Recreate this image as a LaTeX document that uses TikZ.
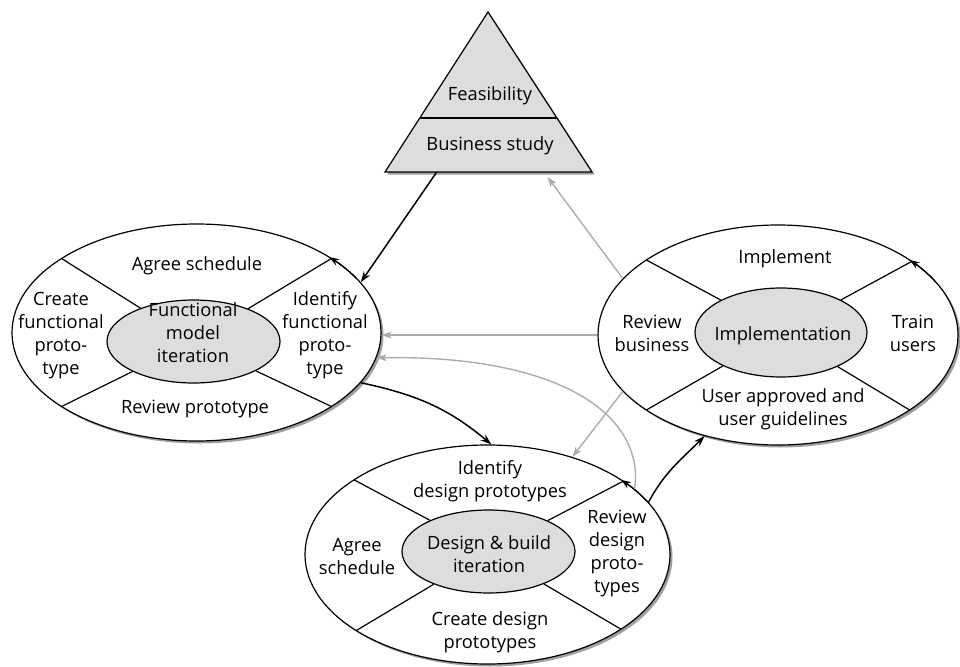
\documentclass[tikz,border=0pt]{standalone}
\usepackage{fontspec}
\setmainfont{Open Sans}
\usetikzlibrary{shapes.geometric,shadows,arrows.meta,calc}

\begin{document}
\begin{tikzpicture}[x=1pt,y=-1pt,
  txt/.style={font=\fontsize{18.3}{23}\selectfont, align=center, inner sep=0pt, text=black},
  shade/.style={drop shadow={shadow xshift=2.5pt, shadow yshift=-2.5pt, fill=gray!75, opacity=1}},
  outer/.style={ellipse, draw, line width=1.2pt, fill=white, inner sep=0pt, shade},
  core/.style={ellipse, draw, line width=1.2pt, fill=gray!27, inner sep=0pt},
  divider/.style={line width=1.2pt},
  turn/.style={line width=1.2pt, -{Stealth[length=10pt,width=7pt]}},
  flow/.style={line width=1.5pt, -{Stealth[length=11pt,width=7.5pt]}},
  back/.style={line width=1.4pt, draw=gray!65, -{Stealth[length=10pt,width=7pt,inset=2.5pt]}},
]
\useasboundingbox (0,0) rectangle (960,666);

% ---------- Feasibility / business study pyramid ----------
\coordinate (apex) at (488,12);
\coordinate (bl) at (385,172);
\coordinate (br) at (592,172);
\filldraw[fill=gray!27, line width=1.2pt, shade] (apex) -- (br) -- (bl) -- cycle;
\draw[line width=1.2pt] ($(apex)!0.6625!(bl)$) -- ($(apex)!0.6625!(br)$);
\node[txt] (feas) at (490,95.3) {Feasibility};
\node[txt] (bstudy) at (490,145.3) {Business study};
\coordinate (tri-out) at ($(bl)!0.25!(br)$);
\coordinate (tri-in) at ($(bl)!0.785!(br)+(0,5)$);

% ---------- Functional model iteration ----------
\node[outer, minimum width=369pt, minimum height=217pt] (fm) at (196.5,332.5) {};
\node[core, minimum width=173pt, minimum height=83pt] (fmc) at (193.5,341.5) {};
\foreach \n/\a in {ur/-43, ul/-137, ll/137, lr/43}
  \coordinate (fm-\n) at ($(fm.center)+(\a:184.5 and 108.5)$);
\draw[divider] (fmc) -- (fm-ul);
\draw[divider] (fmc) -- (fm-ur);
\draw[divider] (fmc) -- (fm-ll);
\draw[divider] (fmc) -- (fm-lr);
\draw[turn] ($(fm.center)+(-30:184.5 and 108.5)$) arc[start angle=-30, end angle=-44, x radius=184.5, y radius=108.5];
\node[txt] (fm-t) at (193,332.5) {Functional\\model\\iteration};
\node[txt] (fm-a) at (197,265.7) {Agree schedule};
\node[txt] (fm-c) at (61,335.2) {Create\\functional\\proto-\\type};
\node[txt] (fm-i) at (325,335.2) {Identify\\functional\\proto-\\type};
\node[txt] (fm-r) at (195,408.7) {Review prototype};

% ---------- Implementation ----------
\node[outer, minimum width=360pt, minimum height=220pt] (im) at (778,335) {};
\node[core, minimum width=172pt, minimum height=89pt] (imc) at (781,332.5) {};
\foreach \n/\a in {ur/-42, ul/-137, ll/137, lr/43}
  \coordinate (im-\n) at ($(im.center)+(\a:180 and 110)$);
\draw[divider] (imc) -- (im-ul);
\draw[divider] (imc) -- (im-ur);
\draw[divider] (imc) -- (im-ll);
\draw[divider] (imc) -- (im-lr);
\draw[turn] ($(im.center)+(-29:180 and 110)$) arc[start angle=-29, end angle=-43, x radius=180, y radius=110];
\node[txt] (im-t) at (783,335.3) {Implementation};
\node[txt] (im-i) at (785,258.3) {Implement};
\node[txt] (im-r) at (652,333.5) {Review\\business};
\node[txt] (im-u) at (913,333.5) {Train\\users};
\node[txt] (im-g) at (783,409.3) {User approved and\\user guidelines};

% ---------- Design & build iteration ----------
\node[outer, minimum width=365pt, minimum height=219pt] (db) at (487.5,554.5) {};
\node[core, minimum width=173pt, minimum height=83pt] (dbc) at (488.5,551.5) {};
\foreach \n/\a in {ur/-42, ul/-137, ll/136, lr/43}
  \coordinate (db-\n) at ($(db.center)+(\a:182.5 and 109.5)$);
\draw[divider] (dbc) -- (db-ul);
\draw[divider] (dbc) -- (db-ur);
\draw[divider] (dbc) -- (db-ll);
\draw[divider] (dbc) -- (db-lr);
\draw[turn] ($(db.center)+(-29:182.5 and 109.5)$) arc[start angle=-29, end angle=-43, x radius=182.5, y radius=109.5];
\node[txt] (db-t) at (489,554.5) {Design \& build\\iteration};
\node[txt] (db-i) at (490,481.3) {Identify\\design prototypes};
\node[txt] (db-a) at (357,556.3) {Agree\\schedule};
\node[txt] (db-r) at (617,553) {Review\\design\\proto-\\types};
\node[txt] (db-c) at (490,632.7) {Create design\\prototypes};

% ---------- Forward flow ----------
\draw[flow] (tri-out) -- (fm.17.5);
\draw[flow] (fm.-17.8) to[out=-12, in=140] (db.88);
\draw[flow] (db.18) to[out=62, in=-135] (im.-126);

% ---------- Feedback ----------
\draw[back] (im.160) -- (tri-in);
\draw[back] (im.west) -- (im.west -| fm.east);
\draw[back] (im.-160) -- (db.49);
\draw[back] (db.24.3) .. controls (645,415) and (560,355) .. (fm.-8.6);
\end{tikzpicture}
\end{document}
